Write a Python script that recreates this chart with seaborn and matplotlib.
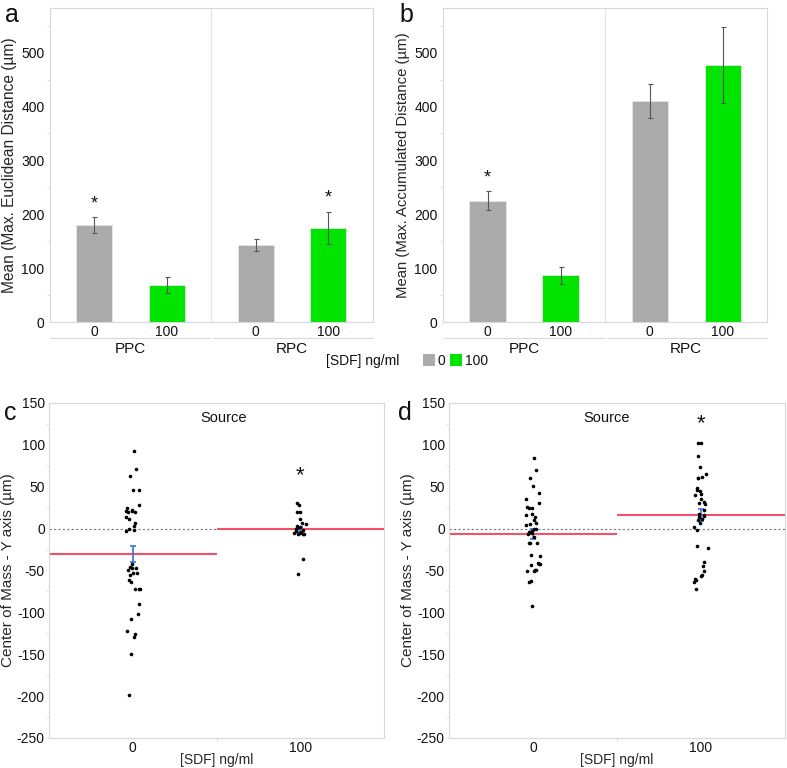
import numpy as np
import pandas as pd
import matplotlib
matplotlib.use("Agg")
import matplotlib.pyplot as plt
import seaborn as sns
from matplotlib.patches import Patch
from matplotlib.ticker import MultipleLocator

# ---- bar panels (a, b)
cells = ['PPC', 'PPC', 'RPC', 'RPC']
sdf = ['0', '100', '0', '100']
eucl_mean = [180, 68, 143, 175]
eucl_sem = [14, 15, 12, 30]
eucl_star = [True, False, False, True]
accum_mean = [225, 87, 410, 477]
accum_sem = [18, 16, 31, 71]
accum_star = [True, False, False, False]

# ---- scatter panels (c, d), center of mass y (um)
c_sdf0 = [93, 71, 63, 46, 46, 28, 24, 20, 14, 22, 21, 21, 20, 11, 7, 3, -3, -2, 0,
          -42, -46, -47, -47, -50, -53, -53, -55, -61, -64, -72, -72, -72, -90,
          -102, -108, -122, -126, -129, -150, -199]
c_sdf100 = [28, 20, 20, 30, 11, 6, 7, 3, 1, 2, 0, -3, -4, -5, -5, -6, -2, -7, -6,
            -36, -54]
c_mean = [-30, -1]
c_sem = [9.5, 3]
c_star = 63

d_sdf0 = [84, 70, 61, 51, 43, 31, 26, 25, 35, 24, 16, 17, 14, 6, 7, 10, 4, 0, -4,
          -5, -4, -1, -3, -7, -10, -17, -17, -17, -31, -33, -42, -49, -42, -41,
          -43, -51, -50, -51, -62, -64, -93]
d_sdf100 = [102, 102, 87, 73, 65, 62, 60, 60, 45, 48, 46, 41, 40, 35, 31, 32, 29,
            22, 16, 14, 15, 17, 11, 10, 7, 2, -2, -23, -21, -40, -45, -51, -57,
            -55, -64, -60, -61, -72]
d_mean = [-6, 16]
d_sem = [6, 7]
d_star = 125

sdf_levels = ['0', '100']
cell_levels = ['PPC', 'RPC']

gray = '#ababab'
green = '#00e400'
frame = '#d8d8d8'

sns.set_style("white")
plt.rcParams['font.family'] = ['Liberation Sans', 'DejaVu Sans']
plt.rcParams['axes.unicode_minus'] = False
plt.rcParams['text.color'] = '#111111'
plt.rcParams['xtick.color'] = '#111111'
plt.rcParams['ytick.color'] = '#111111'

fig = plt.figure(figsize=(7.87, 7.68), dpi=100)
ax_a = fig.add_axes([0.0635, 0.5807, 0.410, 0.409])
ax_b = fig.add_axes([0.563, 0.5807, 0.412, 0.409])
ax_c = fig.add_axes([0.0623, 0.0391, 0.4257, 0.4362])
ax_d = fig.add_axes([0.5705, 0.0391, 0.427, 0.4362])


def bar_panel(ax, means, sems, stars, ylabel, ylsize):
    df = pd.DataFrame({'cell': cells, 'sdf': sdf, 'mean': means})
    sns.barplot(data=df, x='cell', y='mean', hue='sdf', order=cell_levels,
                hue_order=sdf_levels, palette=[gray, green], width=0.9, gap=0.5,
                saturation=1, errorbar=None, legend=False, edgecolor='#e6e6e6',
                linewidth=0.6, ax=ax)
    pos = {}
    for h, cont in enumerate(ax.containers):
        for c, bar in enumerate(cont):
            pos[(cell_levels[c], sdf_levels[h])] = bar.get_x() + bar.get_width() / 2
    xs = [pos[(c, s)] for c, s in zip(cells, sdf)]
    ax.errorbar(xs, means, yerr=sems, fmt='none', ecolor='#555555',
                elinewidth=0.8, capsize=1.8, capthick=0.8)
    for x, m, e, st in zip(xs, means, sems, stars):
        if st:
            ax.text(x, m + e + 25, '*', ha='center', va='center', fontsize=13)
    ax.axvline(0.5, color='#e2e2e2', lw=0.8)
    ax.set_xlim(-0.5, 1.5)
    ax.set_ylim(0, 583)
    ax.set_yticks(range(0, 501, 100))
    ax.yaxis.set_minor_locator(MultipleLocator(50))
    ax.tick_params(axis='y', which='major', length=0, labelsize=10, pad=4)
    ax.tick_params(axis='y', which='minor', length=2, color='#dddddd', left=True)
    ax.set_xticks(xs)
    ax.set_xticklabels(sdf, fontsize=10)
    ax.tick_params(axis='x', length=0, pad=2)
    ax.set_xlabel('')
    ax.set_ylabel(ylabel, fontsize=ylsize, labelpad=3)
    for sp in ax.spines.values():
        sp.set_color(frame)
        sp.set_linewidth(0.8)
    tr = ax.transAxes
    ax.plot([0, 0.495], [-0.051, -0.051], color=frame, lw=0.8, transform=tr, clip_on=False)
    ax.plot([0.505, 1], [-0.051, -0.051], color=frame, lw=0.8, transform=tr, clip_on=False)
    for i, lab in enumerate(cell_levels):
        ax.text(i, -0.085, lab, transform=ax.get_xaxis_transform(), ha='center',
                va='center', fontsize=11)


bar_panel(ax_a, eucl_mean, eucl_sem, eucl_star, 'Mean (Max. Euclidean Distance (µm)', 11.2)
bar_panel(ax_b, accum_mean, accum_sem, accum_star, 'Mean (Max. Accumulated Distance (µm)', 10.7)

fig.text(0.508, 0.530, '[SDF] ng/ml', ha='right', va='center', fontsize=10)
handles = [Patch(facecolor=gray, edgecolor='none', label='0'),
           Patch(facecolor=green, edgecolor='none', label='100')]
fig.legend(handles=handles, loc='center left', bbox_to_anchor=(0.537, 0.530), ncol=2,
           frameon=False, fontsize=10, handlelength=0.9, handleheight=0.9,
           handletextpad=0.2, columnspacing=0.3, borderpad=0, borderaxespad=0)


def scatter_panel(ax, g0, g1, means, sems, star_y, src_x):
    df = pd.DataFrame({'sdf': ['0'] * len(g0) + ['100'] * len(g1), 'y': g0 + g1})
    np.random.seed(3)
    sns.stripplot(data=df, x='sdf', y='y', order=sdf_levels, color='black', size=2.6,
                  jitter=0.045, linewidth=0, ax=ax)
    ax.axhline(0, color='#777777', lw=0.8, ls=(0, (2, 2)))
    ax.hlines(means, [-0.5, 0.5], [0.5, 1.5], color='#f2506b', lw=1.5)
    ax.errorbar([0, 1], means, yerr=sems, fmt='none', ecolor='#3a6fe0', elinewidth=1.2,
                capsize=2.5, capthick=1.2)
    ax.text(1, star_y, '*', ha='center', va='center', fontsize=16)
    ax.text(src_x, 0.955, 'Source', transform=ax.transAxes, ha='center', va='center',
            fontsize=10.5)
    ax.set_xlim(-0.5, 1.5)
    ax.set_ylim(-250, 150)
    ax.set_yticks(range(-250, 151, 50))
    ax.yaxis.set_minor_locator(MultipleLocator(25))
    ax.tick_params(axis='y', which='major', length=0, labelsize=10, pad=3)
    ax.tick_params(axis='y', which='minor', length=2, color='#dddddd', left=True)
    ax.set_xticks([0, 1])
    ax.set_xticklabels(sdf_levels, fontsize=10)
    ax.set_xticks([0.5], minor=True)
    ax.tick_params(axis='x', which='major', length=0, pad=2)
    ax.tick_params(axis='x', which='minor', length=3, color='#dddddd', bottom=True)
    ax.set_xlabel('[SDF] ng/ml', fontsize=10, labelpad=-1)
    ax.set_ylabel('Center of Mass - Y axis (µm)', fontsize=11, labelpad=1)
    for sp in ax.spines.values():
        sp.set_color(frame)
        sp.set_linewidth(0.8)


scatter_panel(ax_c, c_sdf0, c_sdf100, c_mean, c_sem, c_star, 0.52)
scatter_panel(ax_d, d_sdf0, d_sdf100, d_mean, d_sem, d_star, 0.47)

fig.text(0.006, 0.972, 'a', fontsize=18, va='baseline')
fig.text(0.508, 0.972, 'b', fontsize=18, va='baseline')
fig.text(0.005, 0.453, 'c', fontsize=18, va='baseline')
fig.text(0.506, 0.453, 'd', fontsize=18, va='baseline')

fig.savefig('out.png', dpi=100)
